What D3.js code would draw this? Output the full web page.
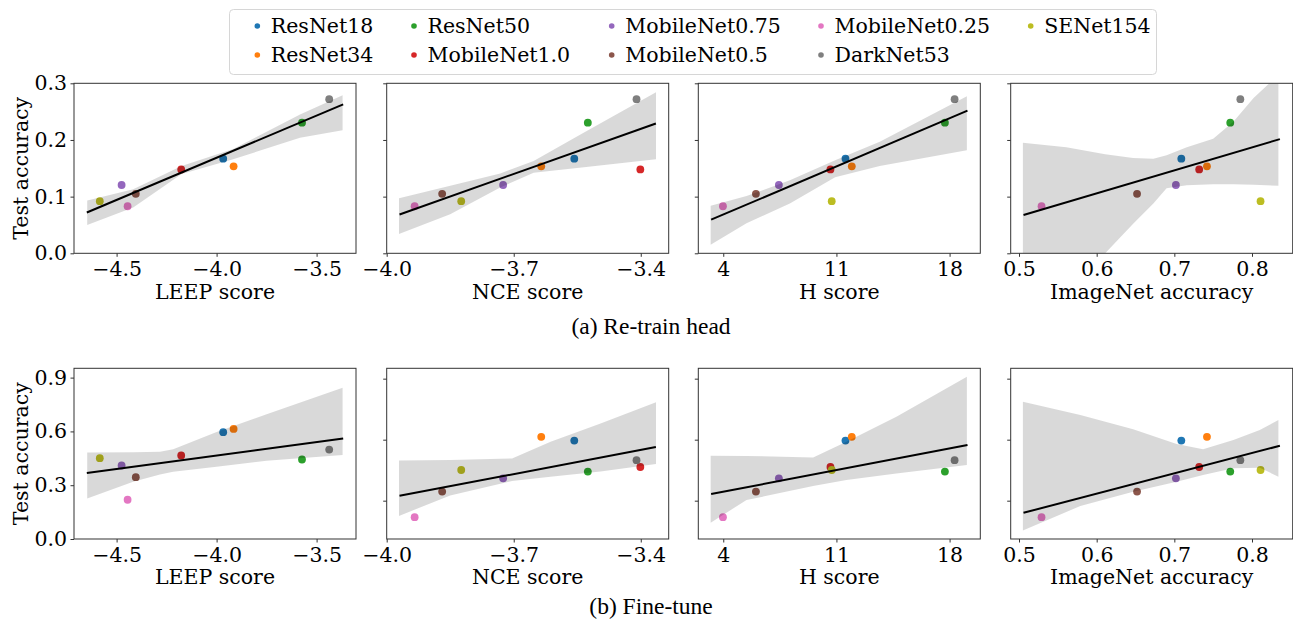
<!DOCTYPE html>
<html>
<head>
<meta charset="utf-8">
<script src="https://cdn.jsdelivr.net/npm/d3@7"></script>
<style>
    body { margin: 0; background: #fff; }
</style>
</head>
<body>
<div id="chart"></div>
<script>
//Datos
const models = ['ResNet18', 'ResNet34', 'ResNet50', 'MobileNet1.0', 'MobileNet0.75', 'MobileNet0.5', 'MobileNet0.25', 'DarkNet53', 'SENet154'];
const modelColors = ['#1f77b4', '#ff7f0e', '#2ca02c', '#d62728', '#9467bd', '#8c564b', '#e377c2', '#7f7f7f', '#bcbd22'];

const leepScore = [-3.967, -3.915, -3.573, -4.177, -4.475, -4.404, -4.445, -3.437, -4.584];
const nceScore = [-3.557, -3.635, -3.525, -3.401, -3.725, -3.869, -3.934, -3.410, -3.824];
const hScore = [11.56, 11.95, 17.71, 10.63, 7.44, 6.02, 3.98, 18.31, 10.71];
const imagenetAcc = [0.709, 0.742, 0.772, 0.732, 0.702, 0.652, 0.529, 0.785, 0.811];

const retrainAcc = [0.167, 0.1535, 0.2305, 0.148, 0.1205, 0.105, 0.083, 0.272, 0.092];
const finetuneAcc = [0.5955, 0.614, 0.4434, 0.4657, 0.410, 0.345, 0.219, 0.499, 0.451];

//Bandas de confianza (x, inferior, superior)
const bandRetrainLeep = [[-4.647, 0.050, 0.093], [-4.417, 0.081, 0.113], [-4.175, 0.140, 0.154], [-3.917, 0.166, 0.184], [-3.583, 0.204, 0.245], [-3.370, 0.217, 0.279]];
const bandRetrainNce = [[-3.971, 0.034, 0.097], [-3.850, 0.069, 0.119], [-3.732, 0.116, 0.141], [-3.653, 0.142, 0.163], [-3.534, 0.152, 0.213], [-3.364, 0.166, 0.284]];
const bandRetrainH = [[3.22, 0.015, 0.084], [5.44, 0.053, 0.101], [8.12, 0.088, 0.129], [10.92, 0.134, 0.164], [13.68, 0.154, 0.197], [19.07, 0.182, 0.277]];
const bandRetrainImnet = [[0.505, -0.149, 0.195], [0.561, -0.069, 0.187], [0.611, 0.000, 0.175], [0.647, 0.052, 0.168], [0.673, 0.088, 0.167], [0.690, 0.115, 0.173], [0.716, 0.120, 0.187], [0.750, 0.122, 0.202], [0.776, 0.122, 0.232], [0.802, 0.121, 0.274], [0.834, 0.119, 0.315]];

const bandFinetuneLeep = [[-4.647, 0.226, 0.482], [-4.417, 0.319, 0.484], [-4.283, 0.360, 0.486], [-4.217, 0.375, 0.500], [-4.000, 0.403, 0.597], [-3.750, 0.436, 0.696], [-3.370, 0.468, 0.844]];
const bandFinetuneNce = [[-3.971, 0.225, 0.497], [-3.850, 0.326, 0.500], [-3.704, 0.397, 0.508], [-3.613, 0.418, 0.590], [-3.495, 0.443, 0.680], [-3.364, 0.480, 0.784]];
const bandFinetuneH = [[3.22, 0.192, 0.521], [5.44, 0.303, 0.520], [9.56, 0.372, 0.512], [11.62, 0.402, 0.590], [14.71, 0.434, 0.713], [19.07, 0.475, 0.910]];
const bandFinetuneImnet = [[0.505, 0.153, 0.787], [0.579, 0.274, 0.721], [0.647, 0.344, 0.651], [0.703, 0.393, 0.579], [0.737, 0.426, 0.553], [0.776, 0.459, 0.598], [0.810, 0.462, 0.648], [0.834, 0.418, 0.697]];

//Ejes
const xLabels = ['LEEP score', 'NCE score', 'H score', 'ImageNet accuracy'];
const xDomains = [[-4.713, -3.303], [-4.0, -3.334], [2.456, 19.9], [0.4893, 0.8524]];
const xTicks = [[-4.5, -4.0, -3.5], [-4.0, -3.7, -3.4], [4, 11, 18], [0.5, 0.6, 0.7, 0.8]];
const retrainTicks = [0, 0.1, 0.2, 0.3];
const finetuneTicks = [0, 0.3, 0.6, 0.9];
const retrainDomain = [0, 0.3];
const finetuneDomains = [[0, 0.952], [0.1116, 0.951], [0.1116, 0.951], [0.1116, 0.951]];
const captions = ['(a) Re-train head', '(b) Fine-tune'];

//Layout
const W = 1293, H = 629;
const panelLeft = [74, 386.7, 698.3, 1010.7], panelW = 282;
const rowTop = [83.3, 368.3], rowH = [170, 170.7];
const FONT = 20.5;
const SERIF = "'DejaVu Serif', 'Liberation Serif', serif";
const TIMES = "'Liberation Serif', 'Times New Roman', serif";

let svg = d3.select('#chart').append('svg')
    .attr('width', W).attr('height', H)
    .attr('font-family', SERIF);

let xValues = [leepScore, nceScore, hScore, imagenetAcc];
let rows = [
    { ys: retrainAcc, bands: [bandRetrainLeep, bandRetrainNce, bandRetrainH, bandRetrainImnet], ticks: retrainTicks, domains: [retrainDomain, retrainDomain, retrainDomain, retrainDomain] },
    { ys: finetuneAcc, bands: [bandFinetuneLeep, bandFinetuneNce, bandFinetuneH, bandFinetuneImnet], ticks: finetuneTicks, domains: finetuneDomains }
];

function fmt(t, col) {
    if (col == 2) return String(t);
    return (t < 0 ? '\u2212' : '') + Math.abs(t).toFixed(1);
}

//Regresión lineal por mínimos cuadrados
function fit(xs, ys) {
    let mx = d3.mean(xs), my = d3.mean(ys);
    let sxy = d3.sum(xs, (v, i) => (v - mx) * (ys[i] - my));
    let sxx = d3.sum(xs, v => (v - mx) * (v - mx));
    let b = sxy / sxx;
    return v => my + b * (v - mx);
}

rows.forEach(function(row, r) {
    xValues.forEach(function(xs, c) {
        let h = rowH[r];
        let g = svg.append('g')
            .attr('transform', 'translate(' + panelLeft[c] + ',' + rowTop[r] + ')');

        let x = d3.scaleLinear().domain(xDomains[c]).range([0, panelW]);
        let y = d3.scaleLinear().domain(row.domains[c]).range([h, 0]);

        let clipId = 'clip-' + r + '-' + c;
        g.append('clipPath').attr('id', clipId)
            .append('rect').attr('width', panelW).attr('height', h);

        //Puntos
        g.append('g').selectAll('circle')
            .data(models)
            .enter()
            .append('circle')
            .attr('cx', (d, i) => x(xs[i]))
            .attr('cy', (d, i) => y(row.ys[i]))
            .attr('r', 3.9)
            .attr('fill', (d, i) => modelColors[i]);

        //Banda
        let area = d3.area()
            .x(d => x(d[0]))
            .y0(d => y(d[1]))
            .y1(d => y(d[2]));
        g.append('path')
            .datum(row.bands[c])
            .attr('d', area)
            .attr('fill', '#000')
            .attr('fill-opacity', 0.15)
            .attr('clip-path', 'url(#' + clipId + ')');

        //Recta de regresión
        let f = fit(xs, row.ys);
        let dom = xDomains[c];
        let pad = (dom[1] - dom[0]) * 0.05 / 1.1;
        let lx = [dom[0] + pad, dom[1] - pad];
        g.append('line')
            .attr('x1', x(lx[0])).attr('y1', y(f(lx[0])))
            .attr('x2', x(lx[1])).attr('y2', y(f(lx[1])))
            .attr('stroke', '#000')
            .attr('stroke-width', 2)
            .attr('clip-path', 'url(#' + clipId + ')');

        //Marco
        g.append('rect')
            .attr('width', panelW).attr('height', h)
            .attr('fill', 'none')
            .attr('stroke', '#333')
            .attr('stroke-width', 1);

        //Eje X
        let xAxis = g.append('g')
            .attr('transform', 'translate(0,' + h + ')')
            .call(d3.axisBottom(x).tickValues(xTicks[c]).tickSize(3.5).tickPadding(5).tickFormat(t => fmt(t, c)));
        xAxis.attr('font-family', SERIF).attr('font-size', FONT);
        xAxis.select('.domain').remove();
        xAxis.selectAll('.tick line').attr('stroke', '#333');
        xAxis.selectAll('text').attr('fill', '#000');

        //Eje Y
        let yAxis = g.append('g')
            .call(d3.axisLeft(y).tickValues(row.ticks.filter(t => t >= row.domains[c][0] - 1e-9))
                .tickSize(3.5).tickPadding(3.5).tickFormat(t => c == 0 ? t.toFixed(1) : ''));
        yAxis.attr('font-family', SERIF).attr('font-size', FONT);
        yAxis.select('.domain').remove();
        yAxis.selectAll('.tick line').attr('stroke', '#333');
        yAxis.selectAll('text').attr('fill', '#000');

        //Títulos de ejes
        g.append('text')
            .attr('x', panelW / 2)
            .attr('y', h + 45.5)
            .attr('text-anchor', 'middle')
            .attr('font-family', SERIF)
            .attr('font-size', FONT)
            .text(xLabels[c]);

        if (c == 0) {
            g.append('text')
                .attr('transform', 'translate(' + (28 - panelLeft[0]) + ',' + (h / 2) + ') rotate(-90)')
                .attr('text-anchor', 'middle')
                .attr('font-family', SERIF)
                .attr('font-size', FONT)
                .text('Test accuracy');
        }
    });
});

//Subtítulos
svg.selectAll('.caption')
    .data(captions)
    .enter()
    .append('text')
    .attr('class', 'caption')
    .attr('x', 651)
    .attr('y', (d, i) => i == 0 ? 334 : 614)
    .attr('text-anchor', 'middle')
    .attr('font-family', TIMES)
    .attr('font-size', 23.5)
    .text(d => d);

//Leyenda (orden por columnas, dos filas)
const legendColX = [257.3, 414, 611.7, 821, 1030.7], legendRowY = [26, 55];
let legend = svg.append('g');
legend.append('rect')
    .attr('x', 229.5).attr('y', 9.5)
    .attr('width', 927).attr('height', 65)
    .attr('rx', 4)
    .attr('fill', '#fff')
    .attr('stroke', '#d6d6d6');

let items = legend.selectAll('.item')
    .data(models)
    .enter()
    .append('g')
    .attr('class', 'item')
    .attr('transform', (d, i) => 'translate(' + legendColX[Math.floor(i / 2)] + ',' + legendRowY[i % 2] + ')');
items.append('circle').attr('r', 2.8).attr('fill', (d, i) => modelColors[i]);
items.append('text')
    .attr('x', 13.5)
    .attr('y', 7.4)
    .attr('font-family', SERIF)
    .attr('font-size', FONT)
    .text(d => d);
</script>
</body>
</html>
